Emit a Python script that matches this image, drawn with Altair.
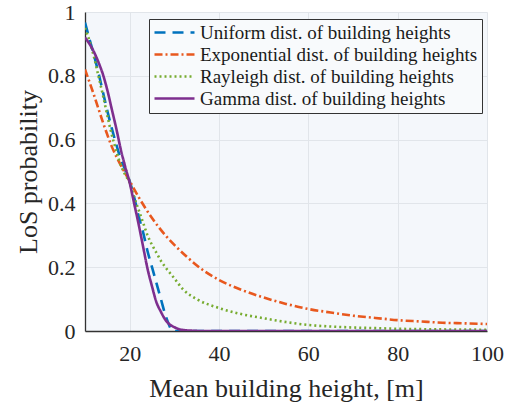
import altair as alt
import pandas as pd

series = [
    "Uniform dist. of building heights",
    "Exponential dist. of building heights",
    "Rayleigh dist. of building heights",
    "Gamma dist. of building heights",
]
colors = ["#0072BD", "#E8581E", "#77AC30", "#7E2F8E"]
dashes = [[11, 7], [8, 3, 2, 3], [2, 3], [1, 0]]

uni_x = [10, 11, 12, 13, 14, 15, 16, 17, 18, 19, 20, 21, 22, 23, 24, 25, 26, 27, 28, 29, 29.5, 30, 40, 60, 80, 100]
uni_y = [0.967, 0.915, 0.865, 0.81, 0.75, 0.69, 0.635, 0.585, 0.54, 0.505, 0.47, 0.42, 0.36, 0.31, 0.25, 0.20,
         0.15, 0.10, 0.05, 0.013, 0.0, 0.0, 0.0, 0.0, 0.0, 0.0]

exp_x = [10, 12, 14, 16, 18, 20, 22, 25, 28, 30, 33, 36, 40, 45, 50, 55, 60, 65, 70, 75, 80, 85, 90, 95, 100]
exp_y = [0.82, 0.74, 0.655, 0.578, 0.52, 0.47, 0.42, 0.354, 0.30, 0.27, 0.23, 0.195, 0.16, 0.129, 0.105, 0.085,
         0.069, 0.058, 0.048, 0.041, 0.034, 0.030, 0.026, 0.024, 0.022]

ray_x = [10, 11, 12, 13, 14, 15, 16, 17, 18, 19, 20, 21, 22, 23, 24, 25, 26, 27, 28, 30, 32, 35, 40, 45, 50, 55,
         60, 65, 70, 75, 80, 90, 100]
ray_y = [0.95, 0.91, 0.86, 0.80, 0.74, 0.675, 0.615, 0.565, 0.52, 0.49, 0.465, 0.42, 0.38, 0.34, 0.30, 0.27,
         0.245, 0.22, 0.20, 0.165, 0.13, 0.10, 0.072, 0.053, 0.040, 0.028, 0.019, 0.014, 0.011, 0.009, 0.007,
         0.005, 0.004]

gam_x = [10, 11, 12, 13, 14, 15, 16, 17, 18, 19, 20, 21, 22, 23, 24, 25, 26, 27, 28, 29, 30, 31, 32, 34, 36, 40,
         60, 80, 100]
gam_y = [0.92, 0.90, 0.875, 0.843, 0.805, 0.755, 0.695, 0.635, 0.57, 0.515, 0.465, 0.40, 0.335, 0.265, 0.195,
         0.14, 0.09, 0.06, 0.035, 0.02, 0.012, 0.006, 0.003, 0.001, 0.0, 0.0, 0.0, 0.0, 0.0]

x_ticks = [20, 40, 60, 80, 100]
y_ticks = [0, 0.2, 0.4, 0.6, 0.8, 1]

rows = []
for name, xs, ys in zip(series, [uni_x, exp_x, ray_x, gam_x], [uni_y, exp_y, ray_y, gam_y]):
    for xv, yv in zip(xs, ys):
        rows.append({"h": xv, "p": yv, "s": name})
df = pd.DataFrame(rows)

FONT = "Liberation Serif"

chart = alt.Chart(df).mark_line(strokeWidth=2.6, interpolate="monotone", clip=True).encode(
    x=alt.X("h:Q", scale=alt.Scale(domain=[10, 100], nice=False, zero=False),
            axis=alt.Axis(values=x_ticks, title="Mean building height, [m]", labelPadding=12, titlePadding=11,
                          labelFlush=False)),
    y=alt.Y("p:Q", scale=alt.Scale(domain=[0, 1], nice=False),
            axis=alt.Axis(values=y_ticks, format=".1~f", title="LoS probability", labelPadding=10, titlePadding=6,
                          labelFlush=False)),
    color=alt.Color("s:N", scale=alt.Scale(domain=series, range=colors), title=None),
    strokeDash=alt.StrokeDash("s:N", scale=alt.Scale(domain=series, range=dashes), title=None),
    order=alt.Order("idx:Q"),
).transform_calculate(
    idx="indexof(['" + "','".join(series) + "'], datum.s)"
).properties(
    width=402, height=319,
    autosize=alt.AutoSizeParams(type="none"),
    padding={"left": 85, "top": 12, "right": 18, "bottom": 80},
).configure(
    font=FONT,
).configure_view(
    fill="#F4F7FB", stroke=None
).configure_axis(
    domainColor="#333333", domainWidth=1.3, gridColor="#E1E5EA", gridWidth=1,
    ticks=False, tickSize=0,
    labelFont=FONT, labelFontSize=22, labelColor="#262626",
    titleFont=FONT, titleFontSize=26, titleFontWeight="normal", titleColor="#262626",
).configure_legend(
    orient="none", legendX=64, legendY=7,
    fillColor="#F8FAFC", strokeColor="#333333", strokeWidth=1, padding=4, cornerRadius=0,
    labelFont=FONT, labelFontSize=19, labelColor="#1a1a1a", labelOffset=28, labelLimit=400,
    symbolType="M-1,0H4", symbolSize=256, symbolStrokeWidth=2.5, rowPadding=2,
)

chart.save("out.html", embed_options={"renderer": "svg", "actions": False})
